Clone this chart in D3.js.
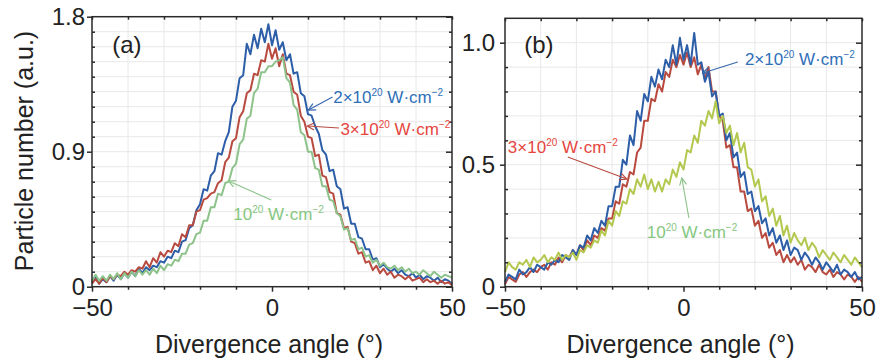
<!DOCTYPE html>
<html>
<head>
<meta charset="utf-8">
<script src="https://cdn.jsdelivr.net/npm/d3@7"></script>
<style>
  body { margin: 0; background: #fff; }
  svg text { font-family: "Liberation Sans", Arial, sans-serif; }
</style>
</head>
<body>
<svg id="chart" width="876" height="363"></svg>
<script>
// sampling angles (deg), one value per degree
const angles = d3.range(-50, 51, 1);

// panel (a)
const aBlue = [
  0.03,0.06,0.02,0.05,0.03,0.07,0.04,0.08,0.05,0.09,
  0.06,0.10,0.07,0.12,0.09,0.13,0.11,0.14,0.13,0.17,
  0.16,0.20,0.19,0.24,0.23,0.30,0.31,0.39,0.41,0.51,
  0.55,0.65,0.64,0.74,0.77,0.89,0.88,0.97,1.03,1.20,
  1.24,1.39,1.41,1.62,1.55,1.68,1.59,1.72,1.63,1.75,
  1.61,1.71,1.58,1.63,1.51,1.55,1.42,1.43,1.29,1.27,
  1.15,1.14,1.07,1.02,0.91,0.88,0.77,0.78,0.67,0.65,
  0.52,0.53,0.42,0.42,0.33,0.32,0.25,0.25,0.18,0.19,
  0.13,0.15,0.12,0.10,0.12,0.09,0.11,0.08,0.07,0.09,
  0.06,0.08,0.05,0.07,0.06,0.04,0.06,0.03,0.05,0.04,0.02
];
const aRed = [
  0.02,0.05,0.02,0.06,0.03,0.07,0.05,0.08,0.07,0.10,
  0.08,0.11,0.10,0.13,0.12,0.17,0.13,0.19,0.16,0.23,
  0.20,0.24,0.23,0.29,0.27,0.35,0.33,0.41,0.41,0.50,
  0.51,0.58,0.59,0.62,0.63,0.69,0.71,0.83,0.86,0.97,
  0.99,1.13,1.17,1.29,1.31,1.42,1.41,1.51,1.50,1.62,
  1.52,1.59,1.47,1.55,1.42,1.41,1.30,1.28,1.14,1.10,
  1.00,0.99,0.87,0.88,0.74,0.73,0.63,0.62,0.49,0.48,
  0.39,0.40,0.30,0.29,0.22,0.23,0.16,0.17,0.11,0.14,
  0.09,0.12,0.08,0.10,0.06,0.08,0.07,0.05,0.07,0.04,
  0.05,0.06,0.03,0.05,0.03,0.04,0.02,0.04,0.02,0.03,0.01
];
const aGreen = [
  0.04,0.08,0.04,0.07,0.04,0.08,0.05,0.09,0.05,0.09,
  0.06,0.10,0.07,0.11,0.08,0.11,0.08,0.12,0.09,0.14,
  0.11,0.15,0.14,0.18,0.17,0.22,0.22,0.28,0.29,0.35,
  0.36,0.44,0.44,0.53,0.53,0.62,0.61,0.69,0.70,0.79,
  0.82,0.95,0.98,1.12,1.14,1.29,1.32,1.43,1.43,1.47,
  1.47,1.50,1.51,1.53,1.39,1.36,1.21,1.18,1.03,1.01,
  0.90,0.90,0.79,0.78,0.67,0.67,0.58,0.57,0.49,0.47,
  0.38,0.39,0.31,0.32,0.25,0.26,0.20,0.21,0.16,0.18,
  0.14,0.16,0.13,0.12,0.14,0.11,0.13,0.10,0.12,0.09,
  0.10,0.08,0.11,0.09,0.07,0.10,0.08,0.06,0.08,0.07,0.06
];

// panel (b)
const bBlue = [
  0.02,0.05,0.04,0.03,0.07,0.05,0.06,0.08,0.06,0.09,
  0.08,0.07,0.10,0.09,0.11,0.10,0.13,0.12,0.11,0.15,
  0.13,0.17,0.16,0.21,0.19,0.24,0.22,0.27,0.25,0.33,
  0.33,0.41,0.41,0.52,0.50,0.62,0.58,0.72,0.68,0.79,
  0.76,0.86,0.82,0.89,0.85,0.93,0.90,0.99,0.91,1.02,
  0.93,0.99,0.91,1.04,0.91,0.92,0.84,0.88,0.78,0.80,
  0.70,0.71,0.60,0.63,0.53,0.55,0.45,0.47,0.38,0.39,
  0.31,0.33,0.26,0.28,0.21,0.24,0.18,0.21,0.15,0.19,
  0.13,0.16,0.15,0.11,0.14,0.12,0.09,0.12,0.10,0.07,
  0.10,0.08,0.06,0.09,0.05,0.07,0.06,0.04,0.06,0.03,0.04
];
const bRed = [
  0.01,0.04,0.03,0.02,0.05,0.06,0.04,0.06,0.07,0.06,
  0.08,0.09,0.07,0.10,0.09,0.12,0.10,0.13,0.12,0.15,
  0.13,0.17,0.15,0.19,0.17,0.21,0.20,0.24,0.23,0.28,
  0.28,0.35,0.34,0.42,0.41,0.47,0.46,0.55,0.57,0.68,
  0.68,0.77,0.76,0.83,0.80,0.88,0.86,0.93,0.90,0.95,
  0.91,0.96,0.90,0.94,0.87,0.91,0.85,0.90,0.80,0.80,
  0.70,0.68,0.57,0.58,0.49,0.49,0.39,0.39,0.31,0.32,
  0.25,0.27,0.20,0.22,0.16,0.18,0.13,0.15,0.10,0.13,
  0.10,0.12,0.09,0.11,0.07,0.09,0.08,0.06,0.09,0.06,
  0.05,0.07,0.04,0.06,0.05,0.03,0.05,0.04,0.02,0.04,0.02
];
const bGreen = [
  0.06,0.10,0.08,0.07,0.10,0.09,0.11,0.08,0.12,0.10,
  0.11,0.13,0.10,0.12,0.11,0.14,0.11,0.13,0.12,0.14,
  0.11,0.15,0.14,0.17,0.16,0.19,0.18,0.23,0.21,0.27,
  0.25,0.31,0.29,0.35,0.34,0.40,0.38,0.44,0.41,0.46,
  0.40,0.44,0.39,0.43,0.39,0.44,0.42,0.48,0.45,0.51,
  0.48,0.56,0.55,0.62,0.59,0.68,0.66,0.72,0.69,0.76,
  0.67,0.70,0.63,0.66,0.58,0.63,0.55,0.59,0.49,0.48,
  0.41,0.44,0.35,0.37,0.29,0.32,0.25,0.29,0.21,0.25,
  0.18,0.22,0.19,0.17,0.20,0.15,0.18,0.16,0.12,0.15,
  0.13,0.11,0.14,0.12,0.10,0.13,0.11,0.09,0.12,0.10,0.08
];

const xMajor = [-50, 0, 50];
const xMinor = [-40, -30, -20, -10, 10, 20, 30, 40];
const aYMajor = [0, 0.9, 1.8];
const bYMajor = [0, 0.5, 1.0];

const svg = d3.select('#chart');

// one open arrowhead marker per colour
const defs = svg.append('defs');
[['blue', '#3566ad'], ['red', '#b84a40'], ['green', '#8cc48a']].forEach(([k, c]) => {
  defs.append('marker')
    .attr('id', 'arr-' + k)
    .attr('viewBox', '-8 -5 10 10')
    .attr('refX', 0).attr('refY', 0)
    .attr('markerWidth', 10).attr('markerHeight', 10)
    .attr('markerUnits', 'userSpaceOnUse')
    .attr('orient', 'auto')
    .append('path')
    .attr('d', 'M-7,-3.5 L0,0 L-7,3.5')
    .attr('fill', 'none')
    .attr('stroke', c)
    .attr('stroke-width', 1.2);
});

function intensityLabel(g, x, y, color, lead) {
  const t = g.append('text')
    .attr('x', x).attr('y', y)
    .attr('fill', color)
    .attr('font-size', 17);
  t.append('tspan').text(lead + '10');
  t.append('tspan').attr('dy', -7).attr('font-size', 10).text('20');
  t.append('tspan').attr('dy', 7).text(' W\u00b7cm');
  t.append('tspan').attr('dy', -7).attr('font-size', 10).text('\u22122');
}

function drawPanel(p) {
  const x = d3.scaleLinear().domain([-50, 50]).range([p.left, p.right]);
  const y = d3.scaleLinear().domain([0, p.ymax]).range([p.bottom, p.top]);
  const g = svg.append('g');

  // light grid
  const hg = d3.range(1, Math.round(p.ymax * 10)).map(d => d / 10);
  g.selectAll('line.vg').data(xMinor).join('line')
    .attr('x1', d => x(d)).attr('x2', d => x(d))
    .attr('y1', p.top).attr('y2', p.bottom)
    .attr('stroke', '#e8e8e8').attr('stroke-width', 1);
  g.selectAll('line.hg').data(hg).join('line')
    .attr('x1', p.left).attr('x2', p.right)
    .attr('y1', d => y(d)).attr('y2', d => y(d))
    .attr('stroke', '#e8e8e8').attr('stroke-width', 1);

  // curves
  const line = d3.line().x((d, i) => x(angles[i])).y(d => y(d));
  p.series.forEach(s => {
    g.append('path')
      .datum(s.values)
      .attr('d', line)
      .attr('fill', 'none')
      .attr('stroke', s.color)
      .attr('stroke-width', 2)
      .attr('stroke-linejoin', 'round');
  });

  // frame
  g.append('rect')
    .attr('x', p.left).attr('y', p.top)
    .attr('width', p.right - p.left).attr('height', p.bottom - p.top)
    .attr('fill', 'none').attr('stroke', '#2a2a2a').attr('stroke-width', 1.5);

  const yMinor = hg.filter(d => !p.yMajor.some(m => Math.abs(m - d) < 1e-6));
  const tickStyle = sel => {
    sel.select('.domain').remove();
    sel.selectAll('line').attr('stroke', '#2a2a2a').attr('stroke-width', 1.5);
    sel.selectAll('text').attr('font-size', 24).attr('fill', '#222')
      .style('font-family', '"Liberation Sans", Arial, sans-serif');
  };

  // bottom
  g.append('g').attr('transform', `translate(0,${p.bottom})`)
    .call(d3.axisBottom(x).tickValues(xMajor).tickSize(5).tickPadding(7)
      .tickFormat(d3.format('d')))
    .call(tickStyle);
  g.append('g').attr('transform', `translate(0,${p.bottom})`)
    .call(d3.axisBottom(x).tickValues(xMinor).tickSize(3).tickFormat(''))
    .call(tickStyle);
  // top mirror
  g.append('g').attr('transform', `translate(0,${p.top})`)
    .call(d3.axisTop(x).tickValues(xMajor.concat(xMinor)).tickSize(-3).tickFormat(''))
    .call(tickStyle);
  // left
  g.append('g').attr('transform', `translate(${p.left},0)`)
    .call(d3.axisLeft(y).tickValues(p.yMajor).tickSize(5).tickPadding(p.yPad)
      .tickFormat(d => d === 0 ? '0' : d3.format('.1f')(d)))
    .call(tickStyle);
  g.append('g').attr('transform', `translate(${p.left},0)`)
    .call(d3.axisLeft(y).tickValues(yMinor).tickSize(-3).tickFormat(''))
    .call(tickStyle);
  // right mirror
  g.append('g').attr('transform', `translate(${p.right},0)`)
    .call(d3.axisRight(y).tickValues(p.yMajor).tickSize(-6).tickFormat(''))
    .call(tickStyle);
  g.append('g').attr('transform', `translate(${p.right},0)`)
    .call(d3.axisRight(y).tickValues(yMinor).tickSize(-3).tickFormat(''))
    .call(tickStyle);

  // x title
  g.append('text')
    .attr('x', (p.left + p.right) / 2 - 3).attr('y', 353)
    .attr('text-anchor', 'middle')
    .attr('font-size', 25).attr('fill', '#222')
    .text('Divergence angle (\u00b0)');

  // panel letter
  g.append('text')
    .attr('x', x(p.tag[1])).attr('y', y(p.tag[2]))
    .attr('font-size', 24).attr('fill', '#222')
    .text(p.tag[0]);

  // annotations
  p.notes.forEach(n => {
    g.append('line')
      .attr('x1', x(n.from[0])).attr('y1', y(n.from[1]))
      .attr('x2', x(n.to[0])).attr('y2', y(n.to[1]))
      .attr('stroke', n.arrow).attr('stroke-width', 1.1)
      .attr('marker-end', `url(#arr-${n.key})`);
    intensityLabel(g, x(n.at[0]), y(n.at[1]), n.color, n.lead);
  });
}

drawPanel({
  left: 92, right: 452, top: 16.7, bottom: 286.7, ymax: 1.8,
  yMajor: aYMajor, yPad: 2,
  series: [
    { values: aBlue, color: '#2d5ea8' },
    { values: aRed, color: '#b94a3f' },
    { values: aGreen, color: '#8dc38a' }
  ],
  tag: ['(a)', -44.4, 1.56],
  notes: [
    { key: 'blue', color: '#2f6fb8', arrow: '#3566ad', lead: '2\u00d7', at: [17.0, 1.224], from: [16.8, 1.264], to: [10.1, 1.178] },
    { key: 'red', color: '#e5463e', arrow: '#b84a40', lead: '3\u00d7', at: [19.0, 1.011], from: [18.6, 1.058], to: [9.8, 1.071] },
    { key: 'green', color: '#86c77f', arrow: '#8cc48a', lead: '', at: [-10.75, 0.445], from: [-0.2, 0.578], to: [-12.1, 0.705] }
  ]
});

drawPanel({
  left: 505, right: 862, top: 18.3, bottom: 286.7, ymax: 1.1,
  yMajor: bYMajor, yPad: 5,
  series: [
    { values: bRed, color: '#b94a3f' },
    { values: bBlue, color: '#2d5ea8' },
    { values: bGreen, color: '#b2c84e' }
  ],
  tag: ['(b)', -44.6, 0.957],
  notes: [
    { key: 'blue', color: '#2f6fb8', arrow: '#3566ad', lead: '2\u00d7', at: [17.2, 0.909], from: [15.2, 0.921], to: [5.4, 0.876] },
    { key: 'red', color: '#e5463e', arrow: '#b84a40', lead: '3\u00d7', at: [-49.2, 0.548], from: [-32.4, 0.532], to: [-15.9, 0.441] },
    { key: 'green', color: '#86c77f', arrow: '#8cc48a', lead: '', at: [-10.3, 0.2], from: [1.5, 0.282], to: [-0.46, 0.445] }
  ]
});

// y title, left panel only
svg.append('text')
  .attr('transform', 'translate(33,151) rotate(-90)')
  .attr('text-anchor', 'middle')
  .attr('font-size', 25).attr('fill', '#222')
  .text('Particle number (a.u.)');
</script>
</body>
</html>
